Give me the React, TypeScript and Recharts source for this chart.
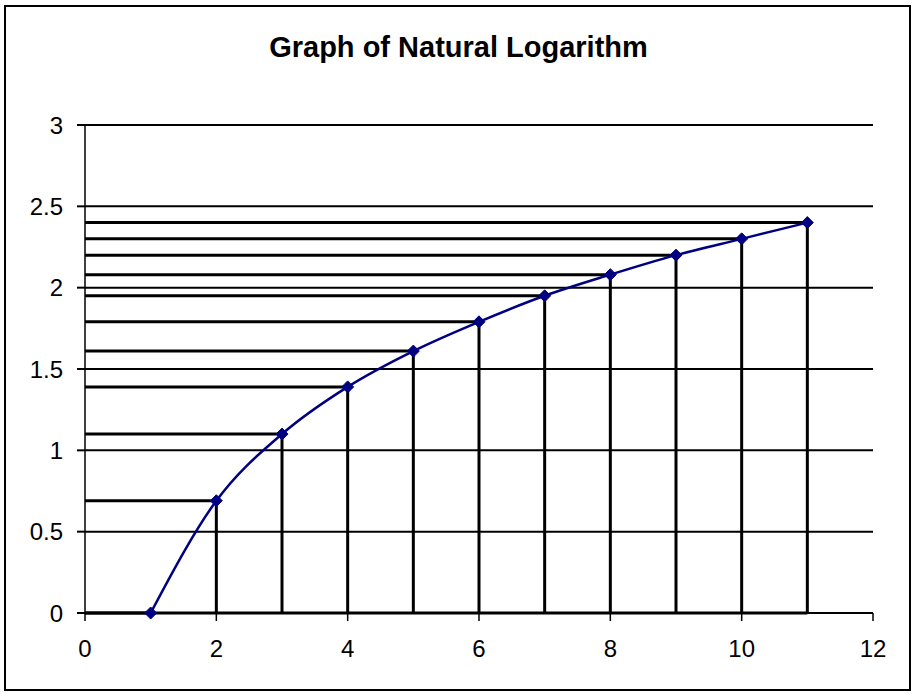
import React from "react";
import { LineChart, Line, XAxis, YAxis, CartesianGrid, ReferenceLine } from "recharts";

const FONT = "'Liberation Sans', Arial, sans-serif";
const NAVY = "#000080";

// natural log values
const X_VALUES = [1, 2, 3, 4, 5, 6, 7, 8, 9, 10, 11];
const LN_VALUES = [0, 0.69, 1.1, 1.39, 1.61, 1.79, 1.95, 2.08, 2.2, 2.3, 2.4];
const X_TICKS = [0, 2, 4, 6, 8, 10, 12];
const Y_TICKS = [0, 0.5, 1, 1.5, 2, 2.5, 3];

const data = X_VALUES.map((x, i) => ({ x, y: LN_VALUES[i] }));

// Excel-style diamond marker
const Diamond = (props: any) => {
  const { cx, cy } = props;
  if (cx == null || cy == null) return null;
  const r = 6;
  return (
    <path
      d={`M${cx},${cy - r} L${cx + r},${cy} L${cx},${cy + r} L${cx - r},${cy} Z`}
      fill={NAVY}
      stroke={NAVY}
      strokeWidth={1}
    />
  );
};

export default function App() {
  return (
    <div style={{ position: "absolute", left: 0, top: 0, width: 917, height: 694, background: "#fff" }}>
      <div
        style={{
          position: "absolute", left: 4, top: 5, width: 907, height: 686,
          border: "2px solid #000", boxSizing: "border-box",
        }}
      />
      <div
        style={{
          position: "absolute", left: 0, top: 29, width: 917, textAlign: "center",
          fontFamily: FONT, fontWeight: 700, fontSize: 29, lineHeight: "36px", color: "#000",
        }}
      >
        Graph of Natural Logarithm
      </div>
      <div style={{ position: "absolute", left: 0, top: 0 }}>
        <LineChart width={917} height={694} data={data} margin={{ top: 125, right: 44, bottom: 0, left: 0 }}>
          <CartesianGrid horizontal vertical={false} stroke="#000" strokeWidth={2} />
          <XAxis
            type="number" dataKey="x" domain={[0, 12]} ticks={X_TICKS} height={81}
            tick={{ fontSize: 24, fill: "#000", fontFamily: FONT }}
            tickSize={8} tickMargin={19}
            axisLine={{ stroke: "#000", strokeWidth: 2 }} tickLine={{ stroke: "#000", strokeWidth: 1.5 }}
          />
          <YAxis
            type="number" domain={[0, 3]} ticks={Y_TICKS} width={85}
            tick={{ fontSize: 24, fill: "#000", fontFamily: FONT }}
            tickSize={8} tickMargin={14}
            axisLine={{ stroke: "#000", strokeWidth: 1.5 }} tickLine={{ stroke: "#000", strokeWidth: 2 }}
          />
          <ReferenceLine segment={[{ x: 0, y: 0 }, { x: X_VALUES[X_VALUES.length - 1], y: 0 }]} stroke="#000" strokeWidth={3} />
          {data.map((d) => (
            <ReferenceLine key={`h${d.x}`} segment={[{ x: 0, y: d.y }, { x: d.x, y: d.y }]} stroke="#000" strokeWidth={3} />
          ))}
          {data.map((d) => (
            <ReferenceLine key={`v${d.x}`} segment={[{ x: d.x, y: d.y }, { x: d.x, y: 0 }]} stroke="#000" strokeWidth={3} />
          ))}
          <Line
            type="monotone" dataKey="y" stroke={NAVY} strokeWidth={2.5}
            dot={<Diamond />} activeDot={false} isAnimationActive={false}
          />
        </LineChart>
      </div>
    </div>
  );
}
